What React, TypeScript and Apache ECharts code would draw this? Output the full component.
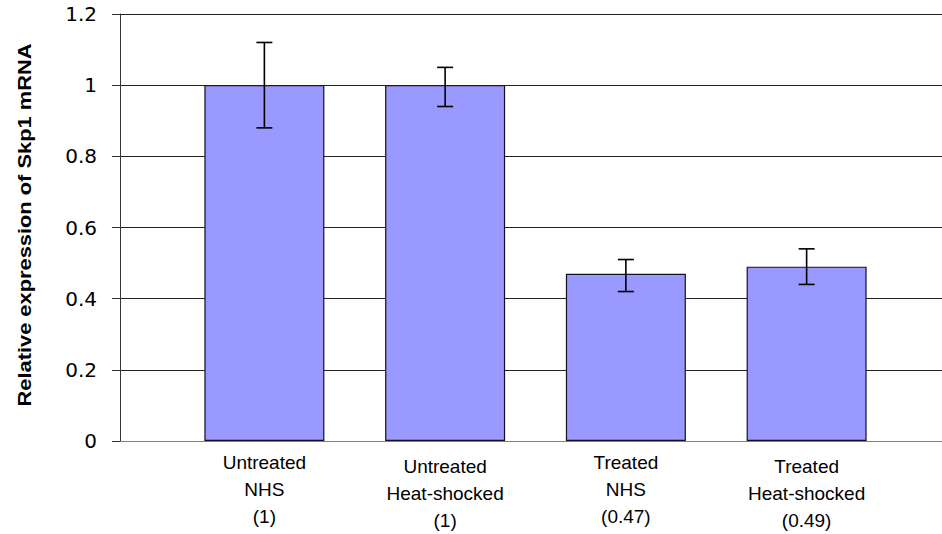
import React, { useEffect, useRef } from "react";
import * as echarts from "echarts";

const categories = [
  "Untreated\nNHS\n(1)",
  "Untreated\nHeat-shocked\n(1)",
  "Treated\nNHS\n(0.47)",
  "Treated\nHeat-shocked\n(0.49)",
];
const values = [1, 1, 0.47, 0.49];
const errLow = [0.88, 0.94, 0.42, 0.44];
const errHigh = [1.12, 1.05, 0.51, 0.54];
const yTitle = "Relative expression of Skp1 mRNA";

export default function App() {
  const ref = useRef<HTMLDivElement>(null);
  useEffect(() => {
    if (!ref.current) return;
    const chart = echarts.init(ref.current, null, { renderer: "svg" });
    const errData = values.map((_, i) => [i, errLow[i], errHigh[i]]);
    chart.setOption({
      animation: false,
      backgroundColor: "#ffffff",
      grid: [
        { left: 120, right: 0, top: 14, bottom: 93 },
        { left: 174, right: 45, top: 14, bottom: 93 },
      ],
      xAxis: [
        {
          gridIndex: 0,
          type: "value",
          min: 0,
          max: 1,
          axisLine: { show: true, lineStyle: { color: "#808080", width: 1 } },
          axisTick: { show: false },
          axisLabel: { show: false },
          splitLine: { show: false },
        },
        {
          gridIndex: 1,
          type: "category",
          data: categories.map((c, i) => ({
            value: c,
            textStyle: { padding: i % 2 === 1 ? [4, 0, 0, 0] : [0, 0, 0, 0] },
          })),
          axisLine: { show: false },
          axisTick: { show: false },
          axisLabel: {
            interval: 0,
            margin: 8,
            fontSize: 19,
            lineHeight: 27,
            color: "#000",
            fontFamily: "'Liberation Sans', Arial, sans-serif",
          },
        },
      ],
      yAxis: [
        {
          gridIndex: 0,
          type: "value",
          min: 0,
          max: 1.2,
          interval: 0.2,
          axisLine: { show: true, lineStyle: { color: "#333", width: 1 } },
          axisTick: { show: true, length: 8, lineStyle: { color: "#333" } },
          axisLabel: {
            margin: 23,
            fontSize: 20,
            color: "#000",
            fontFamily: "'DejaVu Sans', sans-serif",
            formatter: (v: number) => String(Math.round(v * 10) / 10),
          },
          splitLine: { show: true, lineStyle: { color: "#222", width: 1 } },
        },
        {
          gridIndex: 1,
          type: "value",
          min: 0,
          max: 1.2,
          interval: 0.2,
          show: false,
        },
      ],
      graphic: [
        {
          type: "text",
          x: 24,
          y: 225,
          rotation: Math.PI / 2,
          scaleX: 1.15,
          style: {
            text: yTitle,
            fontSize: 19,
            fontWeight: "bold",
            fontFamily: "'Liberation Sans', Arial, sans-serif",
            fill: "#000",
            align: "center",
            verticalAlign: "middle",
          },
        },
      ],
      series: [
        {
          type: "bar",
          xAxisIndex: 1,
          yAxisIndex: 1,
          data: values,
          barWidth: 120,
          itemStyle: { color: "#9999FF", borderColor: "#111122", borderWidth: 1.2 },
          z: 2,
        },
        {
          type: "custom",
          xAxisIndex: 1,
          yAxisIndex: 1,
          data: errData,
          encode: { x: 0, y: [1, 2] },
          z: 3,
          renderItem: (params: any, api: any) => {
            const x = api.value(0);
            const top = api.coord([x, api.value(2)]);
            const bot = api.coord([x, api.value(1)]);
            const hw = 8;
            const style = { stroke: "#000", lineWidth: 1.6 };
            return {
              type: "group",
              children: [
                { type: "line", shape: { x1: top[0], y1: top[1], x2: bot[0], y2: bot[1] }, style },
                { type: "line", shape: { x1: top[0] - hw, y1: top[1], x2: top[0] + hw, y2: top[1] }, style },
                { type: "line", shape: { x1: bot[0] - hw, y1: bot[1], x2: bot[0] + hw, y2: bot[1] }, style },
              ],
            };
          },
        },
      ],
    });
    return () => chart.dispose();
  }, []);
  return (
    <div
      ref={ref}
      style={{ position: "absolute", left: 0, top: 0, width: 942, height: 534 }}
    />
  );
}
